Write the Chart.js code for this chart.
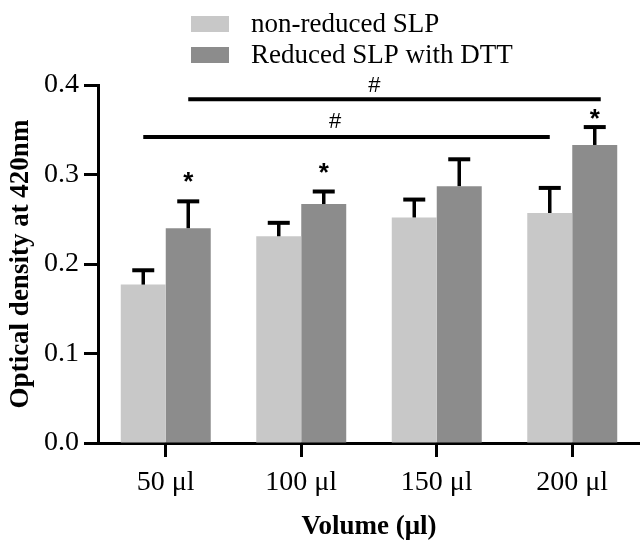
<!DOCTYPE html>
<html><head><meta charset="utf-8">
<script src="https://cdn.jsdelivr.net/npm/chart.js@4"></script>
<style>html,body{margin:0;padding:0;background:#fff}canvas{display:block}</style>
</head><body>
<canvas id="c" width="640" height="541"></canvas>
<script>
// ---- data ----
const categories = ['50 μl', '100 μl', '150 μl', '200 μl'];
const seriesNames = ['non-reduced SLP', 'Reduced SLP with DTT'];
const nonReduced = [0.177, 0.231, 0.252, 0.257];
const reduced = [0.240, 0.267, 0.287, 0.333];
const nonReducedErr = [0.016, 0.015, 0.020, 0.028];
const reducedErr = [0.030, 0.014, 0.030, 0.020];
const starLevels = [0.297, 0.307, null, 0.368];        // '*' above reduced bars
const yTicks = [0.0, 0.1, 0.2, 0.3, 0.4];
const yTitle = 'Optical density at 420nm';
const xTitle = 'Volume (μl)';

// ---- styles ----
const SERIF = '"Liberation Serif", "Times New Roman", serif';
const SANS = '"Liberation Sans", Arial, sans-serif';
const LIGHT = '#c8c8c8';
const DARK = '#8c8c8c';

// significance brackets (axis units)
const brackets = [
  { ds: 1, from: 0, to: 3, level: 0.384, labelAt: 1.54, labelLevel: 0.399, extra: 6 },
  { ds: 0, from: 0, to: 3, level: 0.342, labelAt: 1.25, labelLevel: 0.359, extra: 0 }
];

const errorBars = {
  id: 'errorBars',
  afterDatasetsDraw(chart) {
    const ctx = chart.ctx, y = chart.scales.y;
    [nonReducedErr, reducedErr].forEach((errs, di) => {
      const meta = chart.getDatasetMeta(di);
      meta.data.forEach((bar, j) => {
        const v = chart.data.datasets[di].data[j];
        const top = y.getPixelForValue(v + errs[j]);
        const base = y.getPixelForValue(v);
        ctx.save();
        ctx.strokeStyle = '#000';
        ctx.lineWidth = 3.5;
        ctx.beginPath();
        ctx.moveTo(bar.x, base); ctx.lineTo(bar.x, top);
        ctx.stroke();
        ctx.lineWidth = 4;
        ctx.beginPath();
        ctx.moveTo(bar.x - 11, top); ctx.lineTo(bar.x + 11, top);
        ctx.stroke();
        ctx.restore();
      });
    });
  }
};

const annotations = {
  id: 'annotations',
  afterDraw(chart) {
    const ctx = chart.ctx, y = chart.scales.y, x = chart.scales.x;
    ctx.save();
    // stars
    const meta = chart.getDatasetMeta(1);
    const starSize = 26;
    ctx.fillStyle = '#000';
    ctx.font = 'bold ' + starSize + 'px ' + SANS;
    ctx.textAlign = 'center';
    ctx.textBaseline = 'middle';
    starLevels.forEach((lv, j) => {
      if (lv == null) return;
      const bar = meta.data[j];
      ctx.fillText('*', bar.x, y.getPixelForValue(lv) + 0.23 * starSize);
    });
    // brackets
    brackets.forEach(b => {
      const m = chart.getDatasetMeta(b.ds);
      const x1 = m.data[b.from].x, x2 = m.data[b.to].x + b.extra;
      const yy = y.getPixelForValue(b.level);
      ctx.strokeStyle = '#000';
      ctx.lineWidth = 4;
      ctx.beginPath(); ctx.moveTo(x1, yy); ctx.lineTo(x2, yy); ctx.stroke();
      ctx.font = '22px ' + SANS;
      ctx.textBaseline = 'middle';
      ctx.fillText('#', x.getPixelForValue(b.labelAt), y.getPixelForValue(b.labelLevel));
    });
    // legend
    ctx.textAlign = 'left';
    ctx.textBaseline = 'alphabetic';
    ctx.font = '27px ' + SERIF;
    chart.data.datasets.forEach((ds, i) => {
      const top = 16 + i * 31;
      ctx.fillStyle = ds.backgroundColor;
      ctx.fillRect(191, top, 38, 16);
      ctx.fillStyle = '#000';
      ctx.fillText(ds.label, 251, top + 16);
    });
    ctx.restore();
  }
};

new Chart(document.getElementById('c'), {
  type: 'bar',
  data: {
    labels: categories,
    datasets: [
      { label: seriesNames[0], data: nonReduced, backgroundColor: LIGHT, borderWidth: 0,
        categoryPercentage: 0.664, barPercentage: 1.0 },
      { label: seriesNames[1], data: reduced, backgroundColor: DARK, borderWidth: 0,
        categoryPercentage: 0.664, barPercentage: 1.0 }
    ]
  },
  options: {
    responsive: false,
    animation: false,
    layout: { padding: { top: 85, right: 0, bottom: 0, left: 0 } },
    plugins: { legend: { display: false }, tooltip: { enabled: false }, title: { display: false } },
    scales: {
      x: {
        afterFit: s => { s.height = 98; },
        grid: { display: true, drawOnChartArea: false, drawTicks: true, offset: false,
                tickLength: 14, tickWidth: 3, tickColor: '#000' },
        border: { display: true, width: 3, color: '#000' },
        ticks: { color: '#000', font: { family: SERIF, size: 28 }, padding: 9,
                 autoSkip: false, maxRotation: 0 },
        title: { display: true, text: xTitle, color: '#000',
                 font: { family: SERIF, size: 27, weight: 'bold', lineHeight: 1 },
                 padding: { top: 0, bottom: 0 } }
      },
      y: {
        min: 0, max: 0.4,
        afterFit: s => { s.width = 98; },
        afterBuildTicks: s => { s.ticks = yTicks.map(v => ({ value: v })); },
        grid: { display: true, drawOnChartArea: false, drawTicks: true,
                tickLength: 14, tickWidth: 3, tickColor: '#000' },
        border: { display: true, width: 3, color: '#000' },
        ticks: { color: '#000', font: { family: SERIF, size: 28 }, padding: 5,
                 callback: v => Number(v).toFixed(1) },
        title: { display: true, text: yTitle, color: '#000',
                 font: { family: SERIF, size: 27, weight: 'bold', lineHeight: 1.2 },
                 padding: { top: 5, bottom: 0 } }
      }
    }
  },
  plugins: [errorBars, annotations]
});
</script>
</body></html>
